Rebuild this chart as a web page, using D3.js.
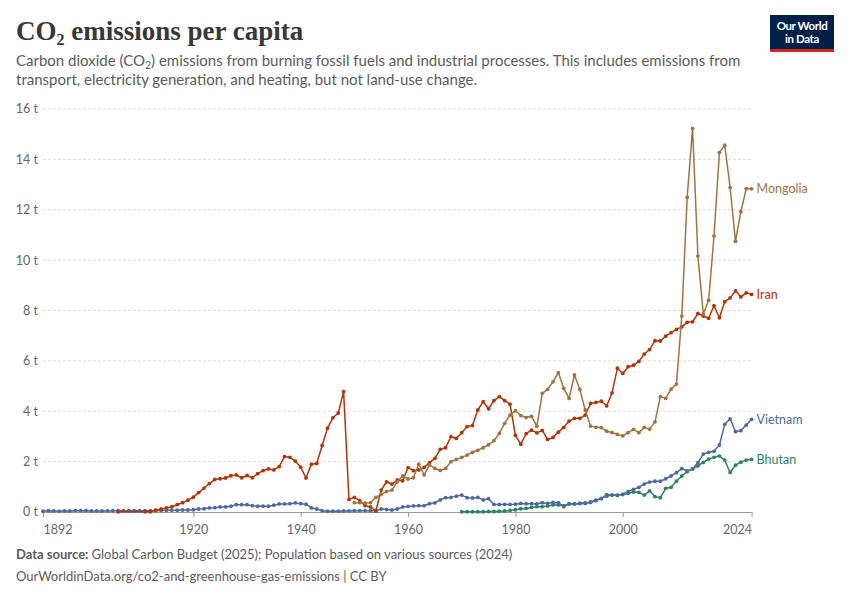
<!DOCTYPE html>
<html>
<head>
<meta charset="utf-8">
<script src="https://cdn.jsdelivr.net/npm/d3@7"></script>
<style>
  body { margin: 0; background: #fff; }
  svg { display: block; font-family: Lato, "Noto Sans", sans-serif; }
</style>
</head>
<body>
<div id="chart"></div>
<script>
// Data (tonnes of CO2 per person)
const vietnamStart = 1892;
const vietnam = [
  0.03, 0.05, 0.04, 0.03, 0.04, 0.04, 0.05, 0.05,
  0.05, 0.04, 0.04, 0.04, 0.04, 0.05, 0.05, 0.05, 0.05, 0.05,
  0.05, 0.05, 0.05, 0.06, 0.06, 0.07, 0.07, 0.07, 0.08, 0.08,
  0.09, 0.12, 0.13, 0.16, 0.17, 0.20, 0.20, 0.23, 0.29, 0.29,
  0.29, 0.25, 0.23, 0.23, 0.23, 0.27, 0.32, 0.32, 0.33, 0.36,
  0.33, 0.31, 0.16, 0.12, 0.05, 0.03, 0.03, 0.03, 0.04, 0.04,
  0.05, 0.05, 0.05, 0.05, 0.05, 0.12, 0.10, 0.08, 0.12, 0.20,
  0.22, 0.24, 0.25, 0.25, 0.33, 0.36, 0.48, 0.57, 0.58, 0.63,
  0.67, 0.57, 0.56, 0.58, 0.48, 0.53, 0.30, 0.30, 0.30, 0.30,
  0.31, 0.34, 0.33, 0.33, 0.32, 0.37, 0.34, 0.38, 0.37, 0.21,
  0.32, 0.32, 0.34, 0.34, 0.40, 0.47, 0.54, 0.63, 0.67, 0.67,
  0.71, 0.81, 0.90, 0.98, 1.11, 1.19, 1.22, 1.22, 1.32, 1.43,
  1.56, 1.72, 1.63, 1.71, 1.96, 2.30, 2.37, 2.41, 2.66, 3.48,
  3.70, 3.19, 3.23, 3.45, 3.68
];

// Iran has two early points before the yearly series from 1912
const iranEarlyYears = [1906, 1911];
const iranEarly = [0.01, 0.01];
const iranStart = 1912;
const iran = [
  0.01, 0.07, 0.12, 0.16, 0.21, 0.29, 0.37, 0.47,
  0.59, 0.77, 0.95, 1.13, 1.29, 1.32, 1.35, 1.44, 1.47, 1.36,
  1.45, 1.36, 1.52, 1.64, 1.71, 1.67, 1.80, 2.20, 2.17, 2.02,
  1.78, 1.35, 1.90, 1.93, 2.64, 3.33, 3.74, 3.93, 4.78, 0.50,
  0.58, 0.45, 0.25, 0.20, 0.04, 0.87, 1.20, 1.11, 1.27, 1.24,
  1.76, 1.64, 1.67, 1.77, 1.96, 2.13, 2.49, 2.55, 2.99, 2.92,
  3.15, 3.39, 3.43, 4.05, 4.38, 4.10, 4.42, 4.58, 4.42, 4.28,
  3.04, 2.69, 3.11, 3.25, 3.14, 3.24, 2.88, 2.96, 3.17, 3.36,
  3.61, 3.72, 3.72, 3.85, 4.31, 4.35, 4.40, 4.21, 4.73, 5.71,
  5.50, 5.77, 5.83, 5.98, 6.27, 6.45, 6.80, 6.79, 6.98, 7.12,
  7.25, 7.35, 7.53, 7.55, 7.88, 7.78, 7.69, 8.19, 7.71, 8.35,
  8.50, 8.78, 8.54, 8.70, 8.64
];

const mongoliaStart = 1950;
const mongolia = [
  0.37, 0.37, 0.36, 0.37, 0.58, 0.70, 0.81, 0.87, 1.20, 1.43,
  1.31, 1.36, 1.90, 1.47, 1.87, 1.73, 1.65, 1.73, 2.00, 2.09,
  2.17, 2.26, 2.37, 2.45, 2.55, 2.67, 2.83, 3.12, 3.52, 3.85,
  4.02, 3.83, 3.75, 3.80, 3.40, 4.71, 4.87, 5.17, 5.53, 4.91,
  4.51, 5.44, 4.87, 4.05, 3.41, 3.36, 3.35, 3.21, 3.16, 3.08,
  3.02, 3.15, 3.28, 3.15, 3.36, 3.29, 3.58, 4.58, 4.51, 4.88,
  5.08, 7.78, 12.49, 15.23, 10.16, 7.86, 8.41, 10.96, 14.27, 14.56,
  12.88, 10.75, 11.92, 12.84, 12.83
];

const bhutanStart = 1970;
const bhutan = [
  0.01, 0.01, 0.01, 0.01, 0.01, 0.02, 0.02, 0.03, 0.04, 0.06,
  0.09, 0.13, 0.14, 0.18, 0.21, 0.21, 0.24, 0.28, 0.28, 0.25,
  0.32, 0.32, 0.34, 0.36, 0.38, 0.45, 0.53, 0.69, 0.67, 0.66,
  0.69, 0.74, 0.79, 0.78, 0.67, 0.84, 0.61, 0.57, 0.94, 0.98,
  1.22, 1.43, 1.60, 1.71, 1.83, 1.97, 2.10, 2.17, 2.22, 2.06,
  1.57, 1.86, 1.98, 2.06, 2.09
];

const yTicks = [0, 2, 4, 6, 8, 10, 12, 14, 16];
const xTicks = [1892, 1920, 1940, 1960, 1980, 2000, 2024];

const toPoints = (start, vals) => vals.map((v, i) => ({ year: start + i, value: v }));

const series = [
  { name: "Mongolia", color: "#a0743f", points: toPoints(mongoliaStart, mongolia) },
  { name: "Iran", color: "#b13507", points: iranEarlyYears.map((y, i) => ({ year: y, value: iranEarly[i] })).concat(toPoints(iranStart, iran)) },
  { name: "Vietnam", color: "#4c6a9c", points: toPoints(vietnamStart, vietnam) },
  { name: "Bhutan", color: "#2c8465", points: toPoints(bhutanStart, bhutan) }
];

const W = 850, H = 600;
const margin = { top: 109, right: 99, bottom: 88, left: 43 };

const svg = d3.select("#chart")
  .append("svg")
  .attr("width", W)
  .attr("height", H);

// Header
const title = svg.append("text")
  .attr("x", 16)
  .attr("y", 40)
  .attr("fill", "#383838")
  .style("font-family", "'Liberation Serif', 'DejaVu Serif', serif")
  .style("font-size", "27px")
  .style("font-weight", "bold");
title.append("tspan").text("CO");
title.append("tspan").attr("dy", 5).style("font-size", "16px").text("2");
title.append("tspan").attr("dy", -5).text(" emissions per capita");

const sub = svg.append("g")
  .attr("fill", "#5b5b5b")
  .style("font-size", "15px");
const s1 = sub.append("text").attr("x", 16).attr("y", 66);
s1.append("tspan").text("Carbon dioxide (CO");
s1.append("tspan").attr("dy", 3).style("font-size", "10.5px").text("2");
s1.append("tspan").attr("dy", -3).text(") emissions from burning fossil fuels and industrial processes. This includes emissions from");
sub.append("text").attr("x", 16).attr("y", 85)
  .text("transport, electricity generation, and heating, but not land-use change.");

// Logo
const logo = svg.append("g").attr("transform", "translate(770,15)");
logo.append("rect").attr("width", 64).attr("height", 37).attr("fill", "#002147");
logo.append("rect").attr("y", 34).attr("width", 64).attr("height", 3).attr("fill", "#ce261e");
logo.append("text").attr("x", 32).attr("y", 15).attr("text-anchor", "middle")
  .attr("fill", "#fff").style("font-size", "11.5px").style("font-weight", "bold")
  .style("letter-spacing", "-0.4px").text("Our World");
logo.append("text").attr("x", 32).attr("y", 28).attr("text-anchor", "middle")
  .attr("fill", "#fff").style("font-size", "11.5px").style("font-weight", "bold")
  .style("letter-spacing", "-0.4px").text("in Data");

// Scales
const x = d3.scaleLinear()
  .domain([1892, 2024])
  .range([margin.left, W - margin.right + 0.6]);

const y = d3.scaleLinear()
  .domain([0, 16])
  .range([H - margin.bottom, margin.top]);

// Gridlines and y labels
const yAxis = svg.append("g");
yAxis.selectAll("line")
  .data(yTicks.filter(d => d > 0))
  .enter().append("line")
  .attr("x1", x(1892))
  .attr("x2", x(2024))
  .attr("y1", d => y(d))
  .attr("y2", d => y(d))
  .attr("stroke", "#dddddd")
  .attr("stroke-dasharray", "3,2");

yAxis.selectAll("text")
  .data(yTicks)
  .enter().append("text")
  .attr("x", 38)
  .attr("y", d => y(d))
  .attr("dy", "0.35em")
  .attr("text-anchor", "end")
  .attr("fill", "#666")
  .style("font-size", "12.5px")
  .text(d => `${d} t`);

// X axis
const xAxis = svg.append("g")
  .attr("transform", `translate(0,${y(0)})`)
  .call(d3.axisBottom(x).tickValues(xTicks).tickFormat(d3.format("d")).tickSize(5).tickSizeOuter(0));
xAxis.select(".domain").attr("stroke", "#999");
xAxis.selectAll(".tick line").attr("stroke", "#999");
xAxis.selectAll(".tick text")
  .attr("fill", "#666")
  .attr("dy", "1.15em")
  .style("font-family", "Lato, sans-serif")
  .style("font-size", "12.5px")
  .attr("text-anchor", d => d === 1892 ? "start" : d === 2024 ? "end" : "middle");

// Lines
const line = d3.line()
  .x(d => x(d.year))
  .y(d => y(d.value));

const lines = svg.append("g");
series.slice().reverse().forEach(s => {
  const g = lines.append("g");
  g.append("path")
    .datum(s.points)
    .attr("fill", "none")
    .attr("stroke", s.color)
    .attr("stroke-width", 1.5)
    .attr("stroke-linejoin", "round")
    .attr("d", line);
  g.selectAll("circle")
    .data(s.points)
    .enter().append("circle")
    .attr("cx", d => x(d.year))
    .attr("cy", d => y(d.value))
    .attr("r", 1.9)
    .attr("fill", s.color);
});

// End labels
svg.append("g").selectAll("text")
  .data(series)
  .enter().append("text")
  .attr("x", x(2024) + 5)
  .attr("y", d => y(d.points[d.points.length - 1].value))
  .attr("dy", "0.35em")
  .attr("fill", d => d.color)
  .style("font-size", "12.5px")
  .text(d => d.name);

// Footer
const foot = svg.append("g").attr("fill", "#5b5b5b").style("font-size", "13px");
const f1 = foot.append("text").attr("x", 16).attr("y", 559);
f1.append("tspan").style("font-weight", "bold").text("Data source: ");
f1.append("tspan").text("Global Carbon Budget (2025); Population based on various sources (2024)");
foot.append("text").attr("x", 16).attr("y", 581)
  .text("OurWorldinData.org/co2-and-greenhouse-gas-emissions | CC BY");
</script>
</body>
</html>
